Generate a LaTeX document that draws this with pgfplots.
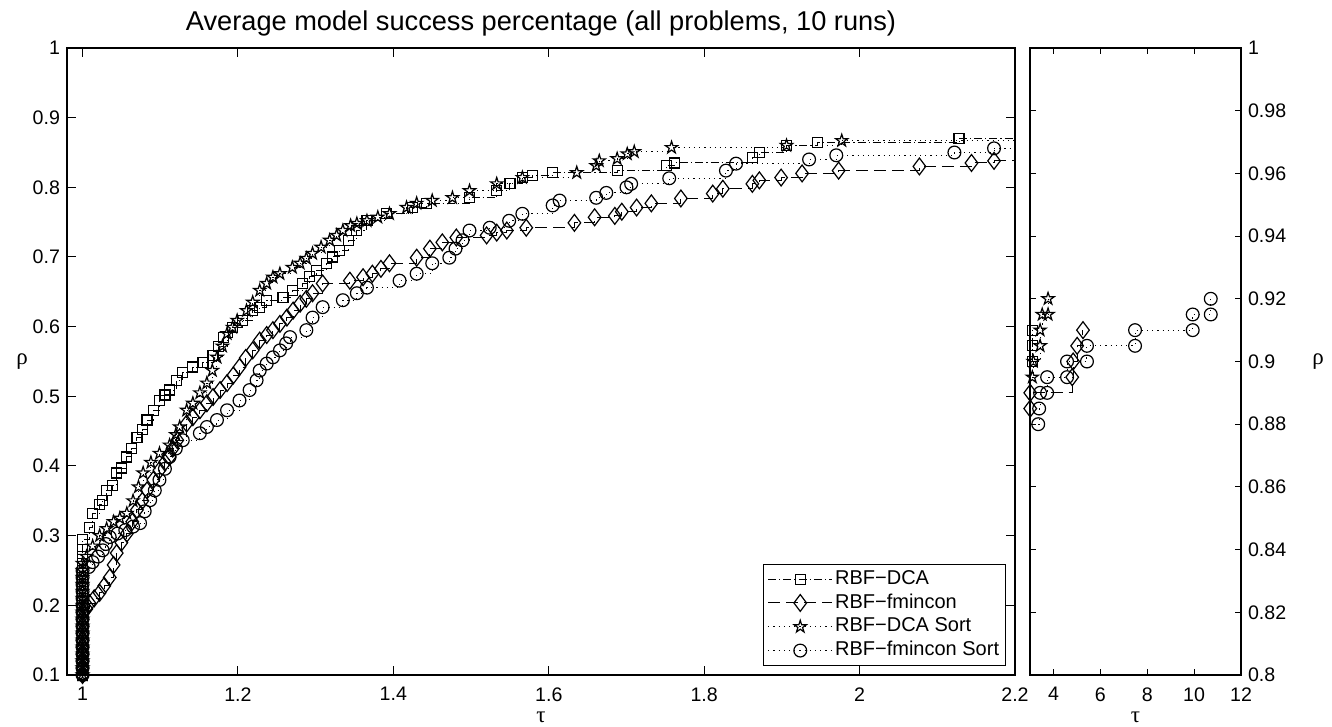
\documentclass[border=0pt]{standalone}
\usepackage{fontspec}
\setmainfont{Liberation Sans}
\newfontfamily\greekfont{Liberation Serif}
\usepackage{pgfplots}
\pgfplotsset{compat=1.18}
\usetikzlibrary{plotmarks}

\pgfdeclareplotmark{pentagram}{%
  \pgfpathmoveto{\pgfpointpolar{90}{\pgfplotmarksize}}%
  \pgfpathlineto{\pgfpointpolar{126}{0.382*\pgfplotmarksize}}%
  \pgfpathlineto{\pgfpointpolar{162}{\pgfplotmarksize}}%
  \pgfpathlineto{\pgfpointpolar{198}{0.382*\pgfplotmarksize}}%
  \pgfpathlineto{\pgfpointpolar{234}{\pgfplotmarksize}}%
  \pgfpathlineto{\pgfpointpolar{270}{0.382*\pgfplotmarksize}}%
  \pgfpathlineto{\pgfpointpolar{306}{\pgfplotmarksize}}%
  \pgfpathlineto{\pgfpointpolar{342}{0.382*\pgfplotmarksize}}%
  \pgfpathlineto{\pgfpointpolar{18}{\pgfplotmarksize}}%
  \pgfpathlineto{\pgfpointpolar{54}{0.382*\pgfplotmarksize}}%
  \pgfpathclose
  \pgfusepathqstroke
}

\pgfplotsset{
  dca/.style={black, line width=0.5pt, dash pattern=on 4pt off 1.5pt on 0.6pt off 1.5pt,
    mark=square, mark size=2.5pt, mark options={solid, line width=0.6pt}},
  fmc/.style={black, line width=0.5pt, dash pattern=on 6pt off 3pt,
    mark=diamond, mark size=4.2pt, mark options={solid, line width=0.6pt}},
  dcas/.style={black, line width=0.5pt, dash pattern=on 0.6pt off 2pt,
    mark=pentagram, mark size=3.2pt, mark options={solid, line width=0.6pt}},
  fmcs/.style={black, line width=0.5pt, dash pattern=on 0.6pt off 2pt,
    mark=o, mark size=3.2pt, mark options={solid, line width=0.6pt}},
  common/.style={
    scale only axis, anchor=south west,
    height=313.5pt,
    tick pos=both, tick align=inside,
    tick style={black, line width=0.5pt},
    axis line style={black, line width=0.6pt},
    ticklabel style={font=\fontsize{9.8}{11}\selectfont},
    xticklabel style={yshift=-2.7pt},
    every axis x label/.style={at={(rel axis cs:0.5,0)}, yshift=-21pt, anchor=center, font=\greekfont\fontsize{11.5}{13}\selectfont},
    const plot,
  },
}

\begin{document}
\begin{tikzpicture}
\begin{axis}[common,
  at={(0pt,0pt)}, width=474pt,
  xmin=0.98, xmax=2.2, ymin=0.1, ymax=1,
  xtick={1,1.2,1.4,1.6,1.8,2,2.2},
  xticklabels={1,1.2,1.4,1.6,1.8,2,2.2},
  ytick={0.1,0.2,0.3,0.4,0.5,0.6,0.7,0.8,0.9,1},
  yticklabels={0.1,0.2,0.3,0.4,0.5,0.6,0.7,0.8,0.9,1},
  major tick length=4.5pt,
  xlabel={τ}, ylabel={ρ},
  every axis y label/.style={at={(rel axis cs:0,0.5)}, xshift=-22.5pt, anchor=center, font=\greekfont\fontsize{11.5}{13}\selectfont},
  title={Average model success percentage (all problems, 10 runs)},
  every axis title/.style={at={(rel axis cs:0.5,1)}, anchor=base, yshift=9pt, font=\fontsize{13.6}{16}\selectfont},
  legend style={at={(rel axis cs:0.9905,0.0144)}, anchor=south east, draw=black, line width=0.5pt,
    fill=white, font=\fontsize{10}{12}\selectfont, inner xsep=2pt, inner ysep=1.5pt, row sep=0pt,
    nodes={inner sep=1.2pt, text height=7.3pt, text depth=2.2pt}},
  legend cell align=left,
  legend image code/.code={\draw[mark repeat=2,mark phase=2,#1] plot coordinates {(0pt,0pt) (16pt,0pt) (32pt,0pt)};},
]
% RBF-DCA
\addplot[dca] coordinates {
(1,0.10)(1,0.11)(1,0.12)(1,0.13)(1,0.14)(1,0.15)(1,0.16)(1,0.17)(1,0.18)(1,0.19)(1,0.20)
(1,0.21)(1,0.22)(1,0.23)(1,0.24)(1,0.25)(1,0.26)(1,0.27)(1,0.28)(1,0.294)
(1.009,0.312)(1.013,0.332)(1.022,0.345)(1.026,0.351)(1.031,0.365)(1.039,0.372)(1.044,0.390)
(1.050,0.397)(1.057,0.413)(1.063,0.425)(1.070,0.441)(1.077,0.452)(1.083,0.466)(1.091,0.480)
(1.099,0.494)(1.106,0.502)(1.112,0.509)(1.121,0.523)(1.129,0.534)(1.142,0.542)(1.155,0.549)
(1.168,0.559)(1.175,0.572)(1.181,0.585)(1.193,0.599)(1.206,0.609)(1.219,0.623)(1.228,0.628)
(1.237,0.638)(1.258,0.642)(1.270,0.652)(1.283,0.662)(1.292,0.672)(1.301,0.681)(1.314,0.691)
(1.322,0.700)(1.331,0.709)(1.342,0.724)(1.353,0.738)(1.366,0.752)(1.391,0.762)(1.425,0.771)
(1.443,0.777)(1.498,0.785)(1.533,0.795)(1.550,0.805)(1.566,0.814)(1.579,0.817)(1.605,0.821)
(1.688,0.824)(1.751,0.831)(1.762,0.835)(1.862,0.843)(1.871,0.850)(1.906,0.860)(1.946,0.864)
(2.128,0.870)
};
\addlegendentry{RBF−DCA}
% RBF-fmincon
\addplot[fmc] coordinates {
(1,0.10)(1,0.11)(1,0.12)(1,0.13)(1,0.14)(1,0.15)(1,0.16)(1,0.17)(1,0.18)(1,0.19)
(1.005,0.195)(1.009,0.203)(1.015,0.210)(1.022,0.218)(1.028,0.228)(1.035,0.240)(1.040,0.258)
(1.044,0.275)(1.050,0.290)(1.057,0.303)(1.064,0.320)(1.070,0.337)(1.077,0.350)(1.083,0.365)
(1.091,0.380)(1.099,0.394)(1.106,0.405)(1.112,0.413)(1.116,0.425)(1.122,0.437)(1.134,0.461)
(1.142,0.470)(1.151,0.480)(1.160,0.490)(1.168,0.499)(1.177,0.509)(1.186,0.519)(1.194,0.530)
(1.202,0.542)(1.210,0.555)(1.219,0.566)(1.228,0.580)(1.237,0.588)(1.245,0.595)(1.254,0.604)
(1.263,0.613)(1.271,0.623)(1.280,0.633)(1.288,0.640)(1.296,0.648)(1.309,0.662)(1.344,0.666)
(1.361,0.671)(1.373,0.676)(1.384,0.683)(1.395,0.691)(1.430,0.699)(1.447,0.712)(1.463,0.721)
(1.481,0.728)(1.520,0.731)(1.533,0.735)(1.546,0.738)(1.571,0.742)(1.633,0.749)(1.659,0.757)
(1.685,0.759)(1.694,0.765)(1.713,0.771)(1.732,0.777)(1.770,0.784)(1.811,0.791)(1.824,0.798)
(1.862,0.805)(1.871,0.810)(1.899,0.814)(1.926,0.820)(1.973,0.824)(2.077,0.830)(2.144,0.835)
(2.173,0.838)
};
\addlegendentry{RBF−fmincon}
% RBF-DCA Sort
\addplot[dcas] coordinates {
(1,0.10)(1,0.11)(1,0.12)(1,0.13)(1,0.14)(1,0.15)(1,0.16)(1,0.17)(1,0.18)(1,0.19)(1,0.20)
(1,0.21)(1,0.22)(1,0.23)(1,0.24)(1,0.25)(1,0.26)
(1.005,0.270)(1.013,0.285)(1.022,0.300)(1.031,0.310)(1.040,0.320)(1.048,0.325)(1.057,0.332)
(1.065,0.350)(1.072,0.370)(1.078,0.390)(1.088,0.405)(1.099,0.418)(1.112,0.430)(1.120,0.445)
(1.125,0.456)(1.134,0.480)(1.142,0.490)(1.151,0.505)(1.160,0.519)(1.167,0.537)(1.173,0.556)
(1.180,0.572)(1.186,0.590)(1.193,0.599)(1.199,0.609)(1.211,0.623)(1.219,0.635)(1.228,0.652)
(1.237,0.662)(1.245,0.671)(1.254,0.676)(1.270,0.685)(1.280,0.691)(1.288,0.698)(1.296,0.705)
(1.307,0.714)(1.318,0.724)(1.327,0.731)(1.335,0.738)(1.345,0.745)(1.353,0.748)(1.366,0.752)
(1.380,0.757)(1.395,0.762)(1.417,0.771)(1.430,0.777)(1.450,0.781)(1.476,0.785)(1.498,0.795)
(1.533,0.805)(1.566,0.814)(1.636,0.821)(1.661,0.831)(1.665,0.838)(1.688,0.841)(1.701,0.848)
(1.710,0.851)(1.758,0.857)(1.906,0.860)(1.977,0.867)
};
\addlegendentry{RBF−DCA Sort}
% RBF-fmincon Sort
\addplot[fmcs] coordinates {
(1,0.10)(1,0.11)(1,0.12)(1,0.13)(1,0.14)(1,0.15)(1,0.16)(1,0.17)(1,0.18)(1,0.19)(1,0.20)
(1,0.21)(1,0.22)(1,0.23)(1,0.24)(1,0.25)
(1.008,0.255)(1.013,0.262)(1.020,0.270)(1.026,0.279)(1.030,0.288)(1.035,0.298)(1.045,0.303)
(1.055,0.308)(1.065,0.313)(1.074,0.318)(1.080,0.335)(1.087,0.351)(1.093,0.365)(1.099,0.380)
(1.106,0.396)(1.112,0.413)(1.120,0.425)(1.129,0.437)(1.151,0.447)(1.160,0.456)(1.173,0.466)
(1.186,0.480)(1.202,0.494)(1.215,0.509)(1.224,0.523)(1.228,0.537)(1.237,0.547)(1.245,0.556)
(1.254,0.566)(1.262,0.576)(1.267,0.585)(1.288,0.595)(1.296,0.613)(1.309,0.628)(1.335,0.638)
(1.353,0.648)(1.366,0.656)(1.408,0.666)(1.430,0.676)(1.450,0.691)(1.472,0.699)(1.480,0.712)
(1.489,0.724)(1.498,0.738)(1.524,0.742)(1.549,0.752)(1.566,0.762)(1.605,0.774)(1.614,0.781)
(1.661,0.785)(1.674,0.792)(1.700,0.800)(1.706,0.805)(1.755,0.813)(1.828,0.824)(1.841,0.834)
(1.935,0.840)(1.970,0.846)(2.122,0.850)(2.173,0.856)
};
\addlegendentry{RBF−fmincon Sort}
% continuation of the lines to the right edge
\addplot[dca, mark=none, forget plot] coordinates {(2.128,0.870)(2.2,0.870)};
\addplot[fmc, mark=none, forget plot] coordinates {(2.173,0.838)(2.2,0.838)};
\addplot[dcas, mark=none, forget plot] coordinates {(1.977,0.867)(2.2,0.867)};
\addplot[fmcs, mark=none, forget plot] coordinates {(2.173,0.856)(2.2,0.856)};
\end{axis}

\begin{axis}[common,
  at={(481.5pt,0pt)}, width=105.5pt,
  xmin=3, xmax=12, ymin=0.8, ymax=1,
  xtick={4,6,8,10,12}, xticklabels={4,6,8,10,12},
  ytick={0.8,0.82,0.84,0.86,0.88,0.9,0.92,0.94,0.96,0.98,1},
  yticklabels={0.8,0.82,0.84,0.86,0.88,0.9,0.92,0.94,0.96,0.98,1},
  yticklabel pos=right,
  major tick length=3pt,
  xlabel={τ}, ylabel={ρ},
  every axis y label/.style={at={(rel axis cs:1,0.5)}, xshift=38.5pt, anchor=center, font=\greekfont\fontsize{11.5}{13}\selectfont},
]
\addplot[dca] coordinates {(3.09,0.900)(3.09,0.905)(3.09,0.910)};
\addplot[fmc] coordinates {(3.01,0.885)(3.01,0.890)(4.80,0.895)(4.84,0.900)(5.01,0.905)(5.26,0.910)};
\addplot[dcas] coordinates {(3.10,0.895)(3.14,0.900)(3.43,0.905)(3.43,0.910)(3.52,0.915)(3.77,0.915)(3.77,0.920)};
\addplot[fmcs] coordinates {(3.35,0.880)(3.39,0.885)(3.43,0.890)(3.73,0.890)(3.73,0.895)(4.58,0.895)(4.58,0.900)
(5.43,0.900)(5.43,0.905)(7.48,0.905)(7.48,0.910)(9.94,0.910)(9.94,0.915)(10.71,0.915)(10.71,0.920)};
\end{axis}
\pgfresetboundingbox
\path[use as bounding box] (-33.5pt,-26pt) rectangle (632.5pt,337.5pt);
\end{tikzpicture}
\end{document}
